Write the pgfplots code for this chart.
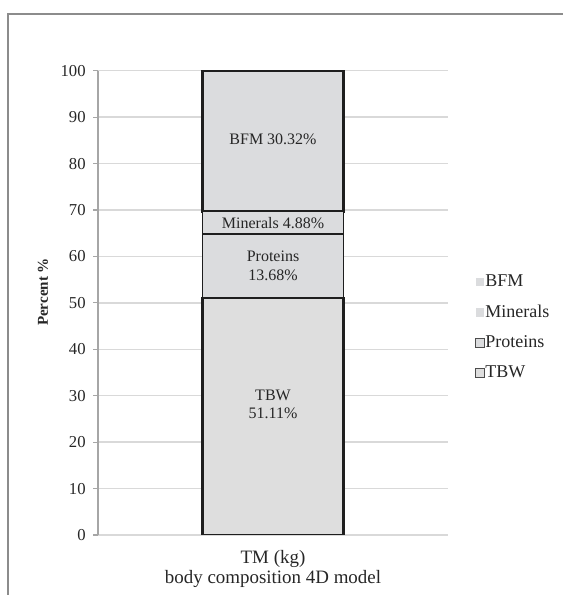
\documentclass[border=0pt]{standalone}
\usepackage{fontspec}
\setmainfont{Liberation Serif}
\usepackage{pgfplots}
\pgfplotsset{compat=1.18}

\definecolor{segfill}{HTML}{DBDCDE}
\definecolor{tbwfill}{HTML}{DEDEDE}
\definecolor{gridc}{HTML}{D9D9D9}
\definecolor{axisc}{HTML}{A6A6A6}
\definecolor{framec}{HTML}{8C8C8C}
\definecolor{textc}{HTML}{262626}
\definecolor{edgec}{HTML}{1E1E1E}

\pgfplotsset{
  sqlegend/.style={legend image code/.code={\draw[#1] (0pt,-3.2pt) rectangle (6.2pt,3.2pt);}},
}
\tikzset{seglabel/.style={font=\fontsize{12}{13.75}\selectfont, text=textc, align=center}}

\begin{document}
\begin{tikzpicture}[x=0.75pt,y=0.75pt]
\useasboundingbox (0,0) rectangle (563,595);
% outer frame (left and top edges)
\draw[framec, line width=1.2pt] (8,0) -- (8,581) -- (563,581);

\begin{axis}[
  at={(73.5pt,45pt)}, anchor=south west,
  scale only axis,
  width=262.5pt, height=348.2pt,
  xmin=0, xmax=1, ymin=0, ymax=100,
  ybar stacked, bar width=105.75pt,
  axis x line*=bottom, axis y line*=left,
  x axis line style={draw=none},
  y axis line style={axisc, line width=0.8pt},
  xtick={0.5}, xticklabels={TM (kg)\\body composition 4D model},
  xticklabel style={align=center, font=\fontsize{14.2}{15}\selectfont, text=textc, yshift=-4pt},
  x tick style={draw=none},
  ytick={0,10,...,100},
  tick align=outside,
  y tick style={axisc, line width=0.8pt},
  major tick length=3.75pt,
  yticklabel style={font=\fontsize{12.5}{14}\selectfont, text=textc, xshift=-2pt},
  /pgf/number format/assume math mode=true,
  ymajorgrids, grid style={gridc, line width=1.1pt},
  ylabel={\textbf{Percent \%}},
  every axis y label/.style={at={(axis description cs:-0.157,0.5234)}, rotate=90, anchor=center,
    font=\fontsize{11.3}{13}\selectfont, text=textc},
  legend style={at={(1.066,0.447)}, anchor=west, draw=none, fill=none,
    font=\fontsize{13.5}{15}\selectfont, text=textc, row sep=11pt,
    nodes={inner sep=0.6pt}},
  legend cell align=left,
  reverse legend,
]
\addplot[fill=tbwfill, draw=edgec, line width=1.6pt,
  sqlegend={fill=tbwfill, draw=black!70, line width=0.7pt}] coordinates {(0.5,51.11)};
\addlegendentry{TBW}
\addplot[fill=segfill, draw=edgec, line width=1.1pt,
  sqlegend={fill=segfill, draw=black!70, line width=0.7pt}] coordinates {(0.5,13.68)};
\addlegendentry{Proteins}
\addplot[fill=segfill, draw=edgec, line width=0.8pt,
  sqlegend={fill=segfill, draw=none}] coordinates {(0.5,4.88)};
\addlegendentry{Minerals}
\addplot[fill=segfill, draw=edgec, line width=1.6pt,
  sqlegend={fill=segfill, draw=none}] coordinates {(0.5,30.32)};
\addlegendentry{BFM}

% anchor points for the segment captions
\coordinate (lbfm) at (axis cs:0.5,85.2);
\coordinate (lmin) at (axis cs:0.5,67.28);
\coordinate (lpro) at (axis cs:0.5,57.98);
\coordinate (ltbw) at (axis cs:0.5,28.1);
\end{axis}

\node[seglabel] at (lbfm) {BFM 30.32\%};
\node[seglabel] at (lmin) {Minerals 4.88\%};
\node[seglabel] at (lpro) {Proteins\\13.68\%};
\node[seglabel] at (ltbw) {TBW\\51.11\%};
\end{tikzpicture}
\end{document}
